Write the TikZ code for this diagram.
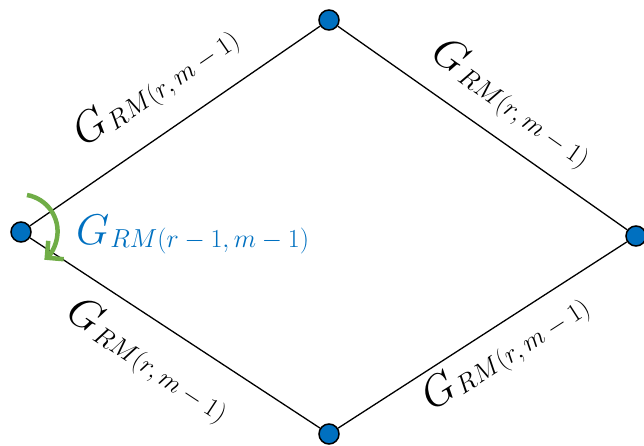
\RequirePackage{fix-cm}
\documentclass[tikz,border=0pt]{standalone}
\usetikzlibrary{arrows.meta}
\definecolor{nodeblue}{HTML}{0070C0}
\definecolor{arcgreen}{HTML}{70AD47}
\newcommand{\glab}[1]{{\fontsize{43}{46}\selectfont$G$}\kern1pt\raisebox{-3pt}{\fontsize{26}{30}\selectfont$#1$}}
\begin{document}
\begin{tikzpicture}[x=1pt,y=1pt,
  vtx/.style={circle, draw=black, line width=1.5pt, fill=nodeblue, minimum size=20pt, inner sep=0pt},
  edge/.style={draw=black, line width=1.3pt},
  lab/.style={sloped, anchor=center, inner sep=0pt}]
\useasboundingbox (0,0) rectangle (644,445);
\node[vtx] (L) at (21,213) {};
\node[vtx] (T) at (329,425) {};
\node[vtx] (R) at (636,209) {};
\node[vtx] (B) at (329,11) {};
\draw[edge] (L) -- node[lab, pos=0.52, yshift=43pt] {\glab{RM(r,m-1)}} (T);
\draw[edge] (T) -- node[lab, pos=0.53, yshift=37pt] {\glab{RM(r,m-1)}} (R);
\draw[edge] (L) -- node[lab, pos=0.48, yshift=-38pt] {\glab{RM(r,m-1)}} (B);
\draw[edge] (B) -- node[lab, pos=0.53, yshift=-27pt] {\glab{RM(r,m-1)}} (R);
\node[anchor=base west, text=nodeblue, inner sep=0pt] (lbl) at (76,201) {\glab{RM(r-1,m-1)}};
\draw[arcgreen, line width=4.5pt, -{Straight Barb[length=12pt, width=24pt]}] (L) ++(6,37) arc[start angle=80, end angle=-50, radius=37];
\end{tikzpicture}
\end{document}
